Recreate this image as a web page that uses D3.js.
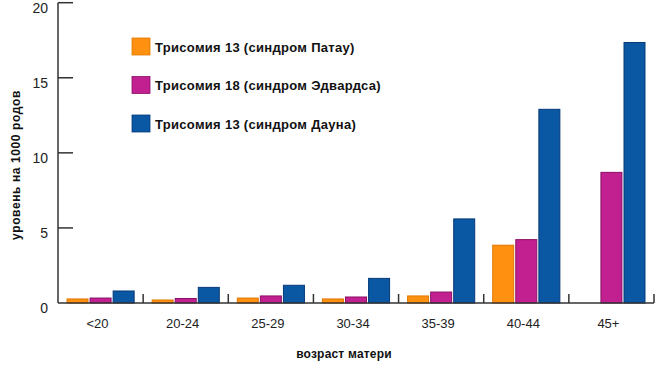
<!DOCTYPE html>
<html>
<head>
<meta charset="utf-8">
<script src="https://cdn.jsdelivr.net/npm/d3@7"></script>
<style>
  body { margin: 0; background: #fff; }
  text { font-family: "Liberation Sans", Arial, sans-serif; }
</style>
</head>
<body>
<div id="chart"></div>
<script>
const categories = ['<20', '20-24', '25-29', '30-34', '35-39', '40-44', '45+'];
const seriesNames = [
  'Трисомия 13 (синдром Патау)',
  'Трисомия 18 (синдром Эдвардса)',
  'Трисомия 13 (синдром Дауна)'
];
const patau = [0.27, 0.2, 0.33, 0.27, 0.47, 3.85, 0];
const edwards = [0.33, 0.3, 0.47, 0.4, 0.73, 4.22, 8.7];
const down = [0.8, 1.04, 1.18, 1.64, 5.6, 12.9, 17.35];
const yTicks = [0, 5, 10, 15, 20];

const fills = ['#ff9010', '#c21f90', '#0a58a4'];
const strokes = ['#e07800', '#8a1066', '#063a78'];

const width = 660, height = 367;
const margin = {top: 2.7, left: 58, right: 6, bottom: 64};

const svg = d3.select('#chart')
    .append('svg')
    .attr('width', width)
    .attr('height', height);

const x = d3.scaleBand()
    .domain(categories)
    .range([margin.left, 654])
    .paddingInner(0)
    .paddingOuter(0);

const xs = d3.scaleBand()
    .domain(d3.range(3))
    .range([9, x.bandwidth() - 9])
    .paddingInner(0.09);

const y = d3.scaleLinear().domain([0, 20]).range([303, margin.top]);

const data = [patau, edwards, down];

// bars
const groups = svg.append('g')
    .selectAll('g')
    .data(categories)
    .join('g')
    .attr('transform', d => 'translate(' + x(d) + ',0)');

groups.selectAll('rect')
    .data((c, ci) => data.map((s, si) => ({si, v: s[ci]})).filter(d => d.v > 0))
    .join('rect')
    .attr('x', d => xs(d.si))
    .attr('width', xs.bandwidth())
    .attr('y', d => y(d.v))
    .attr('height', d => y(0) - y(d.v))
    .attr('fill', d => fills[d.si])
    .attr('stroke', d => strokes[d.si])
    .attr('stroke-width', 1);

// y axis
const yAxis = svg.append('g');
yAxis.append('line')
    .attr('x1', margin.left).attr('x2', margin.left)
    .attr('y1', y(20)).attr('y2', y(0))
    .attr('stroke', '#333').attr('stroke-width', 1.5);
yAxis.selectAll('line.tick')
    .data(yTicks.filter(d => d > 0))
    .join('line')
    .attr('class', 'tick')
    .attr('x1', margin.left).attr('x2', margin.left + 15)
    .attr('y1', d => y(d)).attr('y2', d => y(d))
    .attr('stroke', '#333').attr('stroke-width', 1.5);
yAxis.selectAll('text')
    .data(yTicks)
    .join('text')
    .attr('x', 48)
    .attr('y', d => y(d) + 10)
    .attr('text-anchor', 'end')
    .attr('font-size', 14)
    .attr('fill', '#222')
    .text(d => d);

// x axis
const xAxis = svg.append('g');
xAxis.append('line')
    .attr('x1', margin.left).attr('x2', 654)
    .attr('y1', y(0)).attr('y2', y(0))
    .attr('stroke', '#333').attr('stroke-width', 1.5);
xAxis.selectAll('line.sep')
    .data(categories)
    .join('line')
    .attr('class', 'sep')
    .attr('x1', d => x(d) + x.bandwidth()).attr('x2', d => x(d) + x.bandwidth())
    .attr('y1', y(0) - 9).attr('y2', y(0))
    .attr('stroke', '#333').attr('stroke-width', 1.5);
xAxis.selectAll('text')
    .data(categories)
    .join('text')
    .attr('x', d => x(d) + x.bandwidth() / 2 - 3)
    .attr('y', 328)
    .attr('text-anchor', 'middle')
    .attr('font-size', 13)
    .attr('fill', '#222')
    .text(d => d);

// axis titles
svg.append('text')
    .attr('x', 344)
    .attr('y', 358)
    .attr('text-anchor', 'middle')
    .attr('font-size', 12)
    .attr('font-weight', 'bold')
    .attr('letter-spacing', 0.2)
    .attr('fill', '#111')
    .text('возраст матери');

svg.append('text')
    .attr('transform', 'translate(20,165) rotate(-90)')
    .attr('text-anchor', 'middle')
    .attr('font-size', 12)
    .attr('font-weight', 'bold')
    .attr('letter-spacing', 0.6)
    .attr('fill', '#111')
    .text('уровень на 1000 родов');

// legend
const legend = svg.append('g')
    .selectAll('g')
    .data(seriesNames)
    .join('g')
    .attr('transform', (d, i) => 'translate(132,' + (38 + i * 38.5) + ')');
legend.append('rect')
    .attr('width', 18).attr('height', 17)
    .attr('fill', (d, i) => fills[i])
    .attr('stroke', (d, i) => strokes[i])
    .attr('stroke-width', 0.8);
legend.append('text')
    .attr('x', 23)
    .attr('y', 13.5)
    .attr('font-size', 13)
    .attr('font-weight', 'bold')
    .attr('letter-spacing', 0.3)
    .attr('fill', '#111')
    .text(d => d);
</script>
</body>
</html>
